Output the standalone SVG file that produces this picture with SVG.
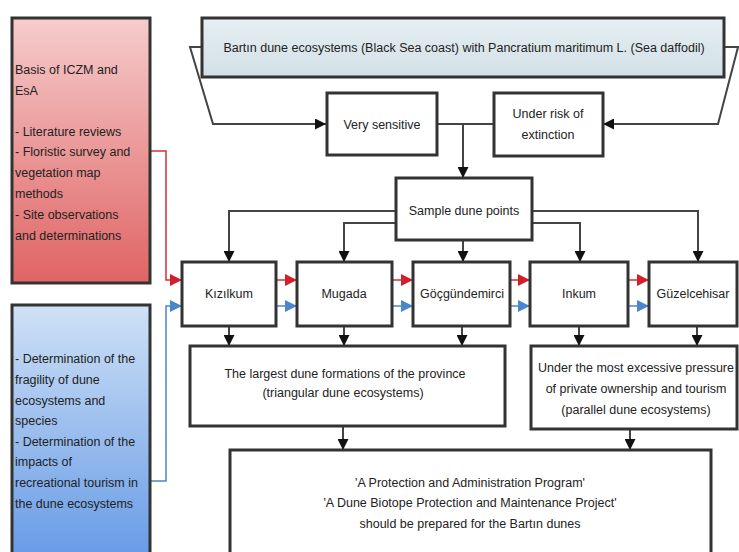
<svg xmlns="http://www.w3.org/2000/svg" width="739" height="552" viewBox="0 0 739 552">
<defs>
<linearGradient id="gRed" x1="0" y1="0" x2="0" y2="1"><stop offset="0" stop-color="#f6cccc"/><stop offset="1" stop-color="#e06464"/></linearGradient>
<linearGradient id="gBlue" x1="0" y1="0" x2="0" y2="1"><stop offset="0" stop-color="#cfe1f6"/><stop offset="1" stop-color="#6499e6"/></linearGradient>
<linearGradient id="gTitle" x1="0" y1="0" x2="0" y2="1"><stop offset="0" stop-color="#e6eff2"/><stop offset="1" stop-color="#d2e0e6"/></linearGradient>
<marker id="ak" viewBox="0 0 10 10" refX="10" refY="5" markerWidth="11" markerHeight="11" markerUnits="userSpaceOnUse" orient="auto"><path d="M0,0 L10,5 L0,10 z" fill="#111"/></marker>
<marker id="ar" viewBox="0 0 10 10" refX="10" refY="5" markerWidth="12" markerHeight="12" markerUnits="userSpaceOnUse" orient="auto"><path d="M0,0 L10,5 L0,10 z" fill="#d0202a"/></marker>
<marker id="ab" viewBox="0 0 10 10" refX="10" refY="5" markerWidth="12" markerHeight="12" markerUnits="userSpaceOnUse" orient="auto"><path d="M0,0 L10,5 L0,10 z" fill="#4a86cc"/></marker>
</defs>
<style>
text{font-family:"Liberation Sans",Arial,sans-serif;font-size:12.5px;fill:#222}
.c{text-anchor:middle}
.box{fill:#fff;stroke:#333;stroke-width:3}
.k{fill:none;stroke:#444;stroke-width:2;marker-end:url(#ak)}
.kn{fill:none;stroke:#444;stroke-width:2}
.r{fill:none;stroke:#d0303a;stroke-width:1.5;marker-end:url(#ar)}
.b{fill:none;stroke:#4a86cc;stroke-width:1.5;marker-end:url(#ab)}
</style>
<rect width="739" height="552" fill="#fff"/>
<g id="connectors">
<path class="k" d="M202,47 H190 L213,124 H326"/>
<path class="k" d="M724,47 H738 L718,124 H603"/>
<path class="kn" d="M437,124 H494"/>
<path class="k" d="M463,124 V178"/>
<path class="k" d="M396,211 H229 V262"/>
<path class="k" d="M396,223 H344 V262"/>
<path class="k" d="M463,240 V262"/>
<path class="k" d="M532,223 H580 V262"/>
<path class="k" d="M532,211 H698 V262"/>
<path class="k" d="M229,326 V346"/>
<path class="k" d="M344,326 V346"/>
<path class="k" d="M462,326 V346"/>
<path class="k" d="M579,326 V346"/>
<path class="k" d="M697,326 V346"/>
<path class="k" d="M343,426 V450"/>
<path class="k" d="M630,429 V450"/>
<path class="r" d="M150,151 H166 V280 H182"/>
<path class="r" d="M276,280 H297"/>
<path class="r" d="M392,280 H413"/>
<path class="r" d="M510,280 H530"/>
<path class="r" d="M628,280 H649"/>
<path class="b" d="M150,481 H166 V306 H182"/>
<path class="b" d="M276,306 H297"/>
<path class="b" d="M392,306 H413"/>
<path class="b" d="M510,306 H530"/>
<path class="b" d="M628,306 H649"/>
</g>
<g id="basis">
<rect x="12" y="18" width="138" height="265" fill="url(#gRed)" stroke="#333" stroke-width="3"/>
<text x="15" y="74">Basis of ICZM and</text>
<text x="15" y="95">EsA</text>
<text x="15" y="136">- Literature reviews</text>
<text x="15" y="156">- Floristic survey and</text>
<text x="15" y="177">vegetation map</text>
<text x="15" y="198">methods</text>
<text x="15" y="219">- Site observations</text>
<text x="15" y="240">and determinations</text>
</g>
<g id="determination">
<rect x="12" y="305" width="138" height="260" fill="url(#gBlue)" stroke="#333" stroke-width="3"/>
<text x="15" y="363">- Determination of the</text>
<text x="15" y="384">fragility of dune</text>
<text x="15" y="405">ecosystems and</text>
<text x="15" y="425">species</text>
<text x="15" y="446">- Determination of the</text>
<text x="15" y="466">impacts of</text>
<text x="15" y="487">recreational tourism in</text>
<text x="15" y="508">the dune ecosystems</text>
</g>
<g id="title">
<rect x="202" y="18" width="522" height="59" fill="url(#gTitle)" stroke="#333" stroke-width="3"/>
<text class="c" x="464" y="52">Bartın dune ecosystems (Black Sea coast) with Pancratium maritimum L. (Sea daffodil)</text>
</g>
<g id="sensitive">
<rect class="box" x="327" y="93" width="110" height="62"/>
<text class="c" x="382" y="129">Very sensitive</text>
</g>
<g id="risk">
<rect class="box" x="494" y="93" width="109" height="63"/>
<text class="c" x="548" y="118">Under risk of</text>
<text class="c" x="548" y="139">extinction</text>
</g>
<g id="sample">
<rect class="box" x="396" y="178" width="136" height="62"/>
<text class="c" x="464" y="215">Sample dune points</text>
</g>
<g id="kizilkum">
<rect class="box" x="182" y="262" width="94" height="64"/>
<text class="c" x="229" y="298">Kızılkum</text>
</g>
<g id="mugada">
<rect class="box" x="297" y="262" width="95" height="64"/>
<text class="c" x="344" y="298">Mugada</text>
</g>
<g id="gocgundemirci">
<rect class="box" x="413" y="262" width="97" height="64"/>
<text class="c" x="462" y="298">Göçgündemirci</text>
</g>
<g id="inkum">
<rect class="box" x="530" y="262" width="98" height="64"/>
<text class="c" x="579" y="298">Inkum</text>
</g>
<g id="guzelcehisar">
<rect class="box" x="649" y="262" width="88" height="64"/>
<text class="c" x="693" y="298">Güzelcehisar</text>
</g>
<g id="largest">
<rect class="box" x="190" y="346" width="315" height="80"/>
<text class="c" x="345" y="378">The largest dune formations of the province</text>
<text class="c" x="343" y="397">(triangular dune ecosystems)</text>
</g>
<g id="pressure">
<rect class="box" x="531" y="346" width="206" height="83"/>
<text class="c" x="636" y="372">Under the most excessive pressure</text>
<text class="c" x="636" y="393">of private ownership and tourism</text>
<text class="c" x="636" y="414">(parallel dune ecosystems)</text>
</g>
<g id="program">
<rect class="box" x="230" y="450" width="481" height="110"/>
<text class="c" x="470" y="487">'A Protection and Administration Program'</text>
<text class="c" x="470" y="507">'A Dune Biotope Protection and Maintenance Project'</text>
<text class="c" x="470" y="528">should be prepared for the Bartın dunes</text>
</g>
</svg>
